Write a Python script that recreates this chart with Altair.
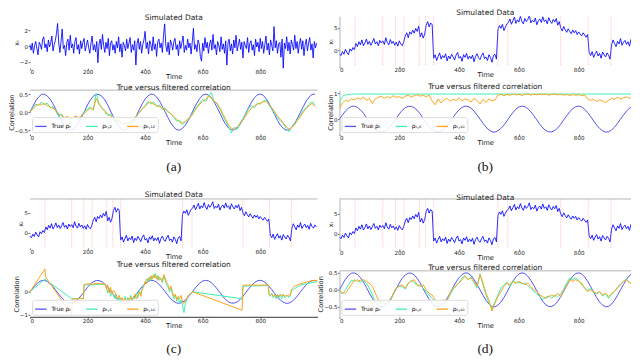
import altair as alt
import pandas as pd

# ---------------- data ----------------
T4 = list(range(0, 1000, 4))
T5 = list(range(0, 1000, 5))
T10 = list(range(0, 1000, 10))
X_TICKS = [0, 200, 400, 600, 800]

# (a) simulated data (step 4)
sim_a = [0.2,-0.5,0.4,-0.9,0.1,0.6,-0.3,-1.1,0.5,0.2,-0.4,0.9,1.2,-0.2,0.3,-0.7,0.8,-0.1,0.4,1.3,-0.6,0.2,0.7,1.6,2.9,
         0.4,-0.8,0.6,2.2,-0.3,0.1,-1.2,0.5,0.9,-0.5,1.4,-0.2,0.3,-0.9,0.6,1.1,-0.4,0.2,-1.0,0.7,-0.3,0.5,1.0,-0.6,0.1,
         0.8,-0.2,-0.9,0.4,1.3,-0.5,0.2,-0.7,0.6,-2.1,0.3,0.9,-0.4,1.5,0.1,-0.8,0.5,-0.3,1.0,-1.2,0.4,0.7,-0.5,0.2,-0.9,
         0.6,-0.2,1.2,-0.7,0.3,-1.4,0.5,0.1,-0.6,0.9,-0.3,0.4,1.1,-0.8,0.2,-0.5,0.7,-2.4,0.3,1.0,-0.4,0.6,-0.9,0.2,0.8,
         1.9,-0.3,0.5,-1.0,0.7,0.2,-0.6,1.2,-0.4,0.3,-1.3,0.6,0.9,-0.2,0.4,-0.8,1.4,2.85,0.1,-0.7,0.5,-1.1,0.8,0.3,-0.5,
         0.6,1.0,-0.4,0.2,-1.2,0.7,-0.3,0.5,1.3,-0.8,0.1,-0.5,0.9,-0.2,0.4,-1.0,0.6,2.3,-0.4,0.2,-0.7,0.8,0.3,-1.3,-1.9,
         0.4,-0.6,1.1,-0.2,0.5,-0.9,0.3,0.8,-0.5,1.5,-0.3,0.2,-1.1,0.6,0.1,-0.7,1.2,-0.4,0.3,-0.9,0.7,-2.4,0.4,0.9,-0.6,
         0.3,-1.0,0.8,-0.2,1.4,-0.6,0.2,0.9,-0.4,0.5,-1.5,0.6,0.1,-0.3,1.1,-0.8,0.4,0.7,-0.5,0.2,-1.2,0.9,-0.1,0.5,-0.7,
         1.0,-0.3,0.6,-0.9,0.2,1.3,-0.5,0.4,-1.1,0.8,0.1,-0.6,2.5,-0.2,0.7,-0.9,0.3,0.5,-1.4,0.9,-2.8,0.4,-0.3,1.2,-0.6,
         0.5,-1.0,0.8,0.2,-0.5,1.4,-0.3,0.6,-0.9,0.3,1.0,-0.4,0.7,-1.2,0.2,0.9,-0.6,0.4,1.1,-0.5,0.3,-1.5,0.6,-0.2,0.4]

# (b),(c),(d) simulated data with regime switches (step 5)
sim_r = ([-0.8,-1.2,-0.3,-0.9,0.2,-0.5,-1.0,0.3,-0.2,0.6,0.1]
         + [1.5,0.8,1.9,1.2,2.3,1.0,1.6,2.5,1.3,2.0,1.1,1.8,2.6,1.4,1.9,1.0,2.2,1.6]
         + [2.1,1.3,2.8,1.7,1.2,2.4,1.5,2.0,1.1]
         + [1.8,0.9,2.1,1.4,1.0,1.9]
         + [3.2,3.9,2.8,4.1,3.6,4.5,3.8,4.9,4.2,5.4]
         + [3.0,3.9,2.7,3.6]
         + [5.6,6.4,5.2,6.1,5.7]
         + [-1.8,-1.0,-2.3,-1.4,-0.6,-2.0,-1.2,-1.7,-0.8,-2.4,-1.3,-1.9,-0.9,-1.5,-2.2,-1.1,-0.5,-1.8,
            -1.4,-2.5,-1.0,-1.6,-0.7,-2.0,-1.3,-1.9,-1.1,-2.6,-1.4,-0.8,-1.7,-2.1,-1.2,-0.6,-1.9,-1.5,
            -2.3,-1.0,-1.6,-2.7,-1.2,-0.9,-2.0]
         + [4.6,5.5,4.9,5.8,4.4,5.2,5.9]
         + [6.2,7.0,5.8,6.6,7.4,6.0,6.8,6.3,7.6,6.5,5.9,7.1,6.4,6.9,7.8,6.1,6.7,6.3,7.2,5.7,6.6,7.0,
            6.2,7.5,6.4,6.8,5.9,7.3,6.5,6.0,6.9,6.3,7.1,5.6,6.4]
         + [5.0,4.3,5.3,4.6,4.0,4.8,4.2,3.7,4.5,3.9,4.4,3.5,4.1,3.6,3.2,3.9,3.4,2.9,3.5]
         + [-0.5,-1.2,-0.3,-1.6,-0.8,-0.2,-1.3,-0.7,-1.8,-0.4,-1.0,-1.5,-0.6,-1.1,-2.0]
         + [1.2,2.3,1.5,0.8,2.0,1.4,2.6,1.1,1.8,2.2,1.3,1.9,0.9,2.4,1.6,1.2,2.0,1.5])

change_points = [52, 145, 187, 216, 267, 288, 315, 530, 563, 740, 832, 908]

# true correlation (step 10)
true_rho = [0.00,0.16,0.31,0.42,0.49,0.50,0.45,0.36,0.23,0.07,
            -0.10,-0.25,-0.38,-0.47,-0.50,-0.48,-0.40,-0.28,-0.13,0.03,
            0.20,0.34,0.44,0.49,0.49,0.44,0.34,0.20,0.03,-0.13,
            -0.28,-0.40,-0.48,-0.50,-0.47,-0.38,-0.25,-0.10,0.07,0.23,
            0.36,0.45,0.50,0.49,0.42,0.31,0.16,0.00,-0.16,-0.31,
            -0.42,-0.49,-0.50,-0.45,-0.36,-0.23,-0.07,0.10,0.25,0.38,
            0.47,0.50,0.48,0.40,0.28,0.13,-0.03,-0.20,-0.34,-0.44,
            -0.49,-0.49,-0.44,-0.34,-0.20,-0.03,0.13,0.28,0.40,0.48,
            0.50,0.47,0.38,0.25,0.10,-0.07,-0.23,-0.36,-0.45,-0.50,
            -0.49,-0.42,-0.31,-0.16,0.00,0.16,0.31,0.42,0.49,0.50]

# (a) filtered correlations (step 10)
a_fast = [0.0,0.12,0.22,0.18,0.28,0.20,0.25,0.12,0.15,0.02,
          -0.12,-0.05,-0.20,-0.15,-0.25,-0.18,-0.10,-0.22,-0.08,0.02,
          0.08,0.15,0.05,0.52,0.25,0.10,0.02,-0.10,-0.05,-0.20,
          -0.28,-0.22,-0.35,-0.30,-0.38,-0.28,-0.22,-0.12,-0.02,0.08,
          0.18,0.30,0.22,0.28,0.15,0.20,0.08,0.12,0.00,-0.05,
          -0.15,-0.25,-0.22,-0.35,-0.28,-0.20,-0.10,0.05,0.15,0.25,
          0.35,0.30,0.42,0.55,0.30,0.22,0.08,-0.10,-0.25,-0.40,
          -0.58,-0.42,-0.48,-0.30,-0.18,-0.05,0.10,0.18,0.12,0.25,
          0.22,0.30,0.35,0.20,0.08,-0.02,-0.15,-0.25,-0.32,-0.45,
          -0.55,-0.40,-0.30,-0.20,-0.08,0.05,0.12,0.22,0.30,0.20]
a_slow = [0.0,0.08,0.18,0.22,0.20,0.25,0.18,0.15,0.10,0.05,
          -0.05,-0.10,-0.15,-0.12,-0.18,-0.15,-0.12,-0.15,-0.10,-0.02,
          0.05,0.10,0.08,0.38,0.22,0.12,0.05,-0.05,-0.10,-0.18,
          -0.22,-0.28,-0.30,-0.32,-0.30,-0.25,-0.18,-0.10,0.00,0.10,
          0.15,0.25,0.28,0.22,0.18,0.15,0.12,0.08,0.02,-0.05,
          -0.12,-0.20,-0.28,-0.30,-0.25,-0.18,-0.12,0.00,0.12,0.22,
          0.30,0.35,0.45,0.40,0.30,0.25,0.12,-0.05,-0.20,-0.35,
          -0.45,-0.48,-0.40,-0.32,-0.22,-0.10,0.02,0.12,0.18,0.22,
          0.25,0.28,0.30,0.22,0.12,0.02,-0.10,-0.20,-0.30,-0.40,
          -0.48,-0.42,-0.35,-0.22,-0.12,0.00,0.10,0.18,0.25,0.15]

# (b) filtered correlations
b_fast_t = [0, 3, 6, 10, 15, 20, 30, 40, 60, 999]
b_fast = [0.50, 0.70, 0.80, 0.87, 0.91, 0.93, 0.95, 0.96, 0.965, 0.965]
b_slow = [0.40,0.62,0.72,0.68,0.78,0.74,0.82,0.76,0.85,0.72,
          0.80,0.60,0.78,0.84,0.88,0.80,0.86,0.82,0.90,0.84,
          0.86,0.80,0.88,0.92,0.85,0.90,0.94,0.88,0.92,0.86,
          0.92,0.70,0.55,0.78,0.62,0.74,0.80,0.68,0.76,0.72,
          0.82,0.70,0.78,0.74,0.66,0.80,0.72,0.58,0.76,0.64,
          0.78,0.70,0.74,0.92,0.96,0.90,0.95,0.92,0.97,0.93,
          0.96,0.91,0.95,0.98,0.92,0.96,0.93,0.97,0.94,0.96,
          0.92,0.95,0.98,0.93,0.96,0.92,0.95,0.91,0.94,0.92,
          0.95,0.90,0.93,0.78,0.72,0.76,0.68,0.74,0.70,0.64,
          0.72,0.80,0.76,0.84,0.78,0.82,0.86,0.80,0.84,0.82]

# (c) filtered correlations (irregular times)
c_slow_t = [0,52,54,145,147,160,175,186,188,200,215,230,245,262,266,270,275,280,285,290,295,300,
            305,310,315,320,325,330,335,340,345,350,355,360,365,370,375,380,385,390,395,400,405,
            410,415,420,425,430,435,440,445,450,455,460,465,470,475,480,485,490,495,500,505,510,
            515,520,525,530,535,540,545,550,555,560,565,737,740,760,790,828,831,835,840,845,850,
            855,860,865,870,875,880,885,890,895,900,905,908,920,940,960,980,999]
c_slow = [0.0,1.0,0.65,-1.0,-0.3,-0.32,-0.28,-0.3,0.32,0.35,0.33,0.36,0.35,0.34,0.1,0.3,-0.05,0.2,
          -0.1,0.05,0.0,-0.2,-0.3,-0.15,-0.35,-0.25,-0.45,-0.3,-0.5,-0.3,-0.4,-0.2,-0.35,-0.25,-0.1,
          -0.3,-0.15,0.0,-0.2,0.1,0.2,0.45,0.35,0.6,0.5,0.7,0.55,0.75,0.6,0.7,0.5,0.65,0.55,0.45,
          0.75,0.6,0.4,0.3,0.1,0.25,0.0,-0.2,-0.1,-0.35,-0.2,-0.3,-0.15,-0.45,-0.5,-0.4,-0.3,-0.15,
          -0.1,-0.05,0.0,-0.8,0.28,0.3,0.29,0.3,-0.1,-0.15,-0.1,-0.2,-0.12,-0.22,-0.15,-0.2,-0.1,
          -0.18,-0.12,-0.2,-0.15,-0.18,-0.12,-0.15,0.1,0.25,0.35,0.42,0.48,0.5]
c_fast_t = [0,52,145,186,188,262,266,270,275,280,285,290,295,300,305,310,315,320,325,330,335,340,
            345,350,355,360,365,370,375,380,385,390,395,400,405,410,415,420,425,430,435,440,445,450,
            455,460,465,470,475,480,485,490,495,500,505,510,515,520,525,530,535,540,545,550,555,560,
            565,737,740,828,831,835,840,845,850,855,860,865,870,875,880,885,890,895,900,905,908,940,999]
c_fast = [0.0,0.55,-0.3,-0.28,0.3,0.32,0.2,-0.05,0.15,-0.2,0.05,-0.15,-0.3,-0.1,-0.4,-0.25,-0.5,
          -0.3,-0.4,-0.2,-0.45,-0.25,-0.35,-0.15,-0.4,-0.2,-0.3,-0.05,-0.25,0.05,-0.1,0.15,0.3,0.4,
          0.55,0.45,0.65,0.5,0.7,0.6,0.8,0.55,0.7,0.5,0.6,0.4,0.7,0.5,0.3,0.2,0.0,0.15,-0.1,-0.3,
          -0.15,-0.4,-0.25,-0.5,-0.35,-0.6,-0.9,-0.5,-0.35,-0.2,-0.15,-0.05,0.0,-0.3,0.25,0.27,-0.15,
          -0.2,-0.05,-0.25,-0.15,-0.3,-0.1,-0.25,-0.15,-0.3,-0.1,-0.25,-0.2,-0.15,-0.25,-0.15,0.05,
          0.3,0.45]

# (d) filtered correlations (step 10)
d_fast = [-0.05,-0.12,0.0,0.15,0.28,0.25,0.30,0.22,0.28,0.20,
          0.05,-0.15,-0.35,-0.30,-0.40,-0.38,-0.42,-0.30,-0.10,0.05,
          0.12,0.10,0.02,0.18,0.28,0.22,0.12,0.15,0.05,-0.05,
          -0.15,-0.25,-0.35,-0.45,-0.40,-0.38,-0.30,-0.15,0.02,0.10,
          0.22,0.35,0.42,0.30,0.38,0.20,0.05,0.48,0.15,-0.15,
          -0.40,-0.55,-0.35,-0.15,0.05,0.15,0.22,0.10,0.28,0.20,
          0.22,0.18,0.20,0.12,0.05,-0.05,-0.12,-0.20,-0.28,-0.22,
          -0.18,-0.25,-0.15,-0.20,-0.12,0.02,0.20,0.35,0.30,0.35,
          0.28,0.15,0.05,-0.02,0.05,-0.08,-0.12,-0.05,-0.18,-0.12,
          -0.25,-0.15,-0.05,0.08,0.18,0.25,0.32,0.22,0.15,0.28]
d_slow = [-0.05,-0.08,-0.10,0.02,0.15,0.30,0.25,0.28,0.30,0.25,
          0.20,0.10,-0.10,-0.30,-0.35,-0.36,-0.38,-0.35,-0.12,0.05,
          0.10,0.15,0.05,0.20,0.25,0.30,0.15,0.10,0.15,0.00,
          -0.10,-0.15,-0.30,-0.40,-0.35,-0.30,-0.32,-0.10,0.05,0.12,
          0.20,0.30,0.40,0.30,0.35,0.25,0.10,0.45,0.20,-0.10,
          -0.30,-0.62,-0.40,-0.20,-0.05,0.10,0.20,0.15,0.25,0.20,
          0.25,0.20,0.15,0.20,0.10,0.00,-0.05,-0.15,-0.20,-0.25,
          -0.20,-0.15,-0.20,-0.10,-0.20,0.00,0.10,0.30,0.25,0.30,
          0.25,0.20,0.05,-0.05,0.00,-0.05,-0.10,-0.05,-0.15,-0.10,
          -0.20,-0.10,-0.05,0.05,0.15,0.25,0.30,0.20,0.15,0.25]

names_a = ["True ρₜ", "ρₜ,₂", "ρₜ,₁₂"]
names_b = ["True ρₜ", "ρₜ,₆", "ρₜ,₁₀"]
names_c = ["True ρₜ ", "ρₜ,₆ ", "ρₜ,₁₀ "]
names_d = ["True ρₜ  ", "ρₜ,₆  ", "ρₜ,₁₀  "]
captions = ["(a)", "(b)", "(c)", "(d)"]

# ---------------- style ----------------
FONT = "DejaVu Sans"
DATA_BLUE = "#0000ff"
C_TRUE = "#5454f2"
C_FAST = "#3ef0b0"
C_SLOW = "#ffa41c"
SPINE = "#b5b5b5"
WL, WR = 288, 292
XDOM_L = [0, 999]
XDOM_R = [0, 975]
GAP = 22


def xaxis(domain_line=False, domain_color="#333333"):
    return alt.Axis(values=X_TICKS, title="Time", domain=domain_line, domainColor=domain_color,
                    tickSize=1.5, labelPadding=0, titlePadding=-1.5, labelFontSize=5.6,
                    titleFontSize=6.8, format="d")


def yaxis(title, vals, fmt, spine):
    return alt.Axis(values=vals, title=title, domain=spine, domainColor=SPINE, tickSize=2,
                    labelPadding=0.5, titlePadding=0, labelFontSize=5.5, titleFontSize=6.6,
                    format=fmt)


def spine_top(width):
    return alt.Chart(pd.DataFrame({"k": [0]})).mark_rule(color=SPINE, strokeWidth=1).encode(
        x=alt.value(0), x2=alt.value(width), y=alt.value(0))


def title(text, dy=0):
    return alt.TitleParams(text, fontSize=7.5, font=FONT, fontWeight="normal", offset=0, dy=dy,
                           color="#222222")


def top_panel(ts, vals, width, height, xdom, ydom, yvals, ttl_dy, cps=None, left_spine=False,
              top_spine=False, clip=True):
    xs = alt.Scale(domain=xdom, nice=False, zero=False)
    ys = alt.Scale(domain=ydom, nice=False, zero=False)
    df = pd.DataFrame({"t": ts, "v": vals})
    layers = [alt.Chart(df).mark_line(color=DATA_BLUE, strokeWidth=0.85, clip=clip).encode(
        x=alt.X("t:Q", scale=xs, axis=xaxis()),
        y=alt.Y("v:Q", scale=ys, axis=yaxis("xₜ", yvals, "d", left_spine)))]
    if cps:
        layers.append(alt.Chart(pd.DataFrame({"t": cps})).mark_rule(
            color="#ff7a7a", strokeWidth=1, opacity=0.4, strokeDash=[1.5, 1], clip=clip).encode(
            x=alt.X("t:Q", scale=xs, axis=xaxis())))
    if top_spine:
        layers.append(spine_top(width))
    return alt.layer(*layers).properties(width=width, height=height,
                                         title=title("Simulated Data", ttl_dy))


def bottom_panel(series, names, width, height, xdom, ydom, yvals, yfmt, ttl_dy,
                 left_spine=False, top_spine=False, bottom_spine=False, clip=True):
    xs = alt.Scale(domain=xdom, nice=False, zero=False)
    ys = alt.Scale(domain=ydom, nice=False, zero=False)
    cs = alt.Scale(domain=names, range=[C_TRUE, C_FAST, C_SLOW])
    leg = alt.Legend(title=None, orient="bottom-left", direction="horizontal", columns=3,
                     symbolType="stroke", symbolSize=130, symbolStrokeWidth=1.3,
                     labelFontSize=5.8, labelFont=FONT, columnPadding=12, padding=2.5, offset=2,
                     fillColor="rgba(255,255,255,0.85)", strokeColor="#dddddd", cornerRadius=2,
                     labelLimit=80, symbolOffset=0)
    xa = xaxis(bottom_spine)
    ya = yaxis("Correlation", yvals, yfmt, left_spine)
    layers = []
    for (ts, vs), nm in zip(series, names):
        df = pd.DataFrame({"t": ts, "v": vs, "s": [nm] * len(ts)})
        layers.append(alt.Chart(df).mark_line(strokeWidth=1, clip=clip).encode(
            x=alt.X("t:Q", scale=xs, axis=xa),
            y=alt.Y("v:Q", scale=ys, axis=ya),
            color=alt.Color("s:N", scale=cs, legend=leg)))
    if top_spine:
        layers.append(spine_top(width))
    return alt.layer(*layers).properties(width=width, height=height,
                                         title=title("True versus filtered correlation", ttl_dy))


def caption(label, width, height, dy):
    return alt.Chart(pd.DataFrame({"label": [label]})).mark_text(
        font="Liberation Serif", fontSize=13.5, dy=dy, color="#111111").encode(
        text="label:N").properties(width=width, height=height)


# ---------------- panels ----------------
a_top = top_panel(T4, sim_a, WL, 52, XDOM_L, [-2.80, 3.82], [-2, 0, 2], 5.5, clip=False)
b_top = top_panel(T5, sim_r, WR, 50, XDOM_R, [-3.58, 7.6], [0, 5], 0, cps=change_points,
                  left_spine=True)
a_bot = bottom_panel([(T10, true_rho), (T10, a_fast), (T10, a_slow)], names_a, WL, 44,
                     XDOM_L, [-0.61, 0.61], [-0.5, 0.0, 0.5], ".1f", 1.5, top_spine=True,
                     clip=False)
b_bot = bottom_panel([(T10, true_rho), (b_fast_t, b_fast), (T10, b_slow)], names_b, WR, 44,
                     XDOM_R, [-0.577, 1.115], [0, 1], "d", 0, left_spine=True)
cap_a = caption(captions[0], WL, 21, 0.5)
cap_b = caption(captions[1], WR, 21, 0.5)
c_top = top_panel(T5, sim_r, WL, 49, XDOM_L, [-3.75, 8.5], [0, 5], 0, cps=change_points,
                  top_spine=True, clip=False)
d_top = top_panel(T5, sim_r, WR, 50, XDOM_R, [-3.75, 8.75], [0, 5], 3.5, cps=change_points,
                  left_spine=True, top_spine=True)
c_bot = bottom_panel([(T10, true_rho), (c_fast_t, c_fast), (c_slow_t, c_slow)], names_c, WL, 46,
                     XDOM_L, [-1.087, 0.913], [-1, 0], "d", 2, bottom_spine=True,
                     clip=False)
d_bot = bottom_panel([(T10, true_rho), (T10, d_fast), (T10, d_slow)], names_d, WR, 46,
                     XDOM_R, [-0.794, 0.559], [-0.5, 0.0, 0.5], ".1f", 1.5, left_spine=True,
                     top_spine=True)
cap_c = caption(captions[2], WL, 1, 10)
cap_d = caption(captions[3], WR, 1, 10)

chart = alt.concat(a_top, b_top, a_bot, b_bot, cap_a, cap_b, c_top, d_top, c_bot, d_bot,
                   cap_c, cap_d, columns=2, spacing=GAP, bounds="flush")
chart = chart.resolve_scale(x="independent", y="independent", color="independent")
chart = chart.resolve_legend(color="independent")
chart = chart.configure_view(stroke=None).configure_axis(
    labelFont=FONT, titleFont=FONT, labelColor="#222222", titleColor="#222222",
    tickColor="#666666", grid=False, titleFontWeight="normal").properties(
    padding=0, background="white")

chart.save("out.html", embed_options={"renderer": "svg", "actions": False})
